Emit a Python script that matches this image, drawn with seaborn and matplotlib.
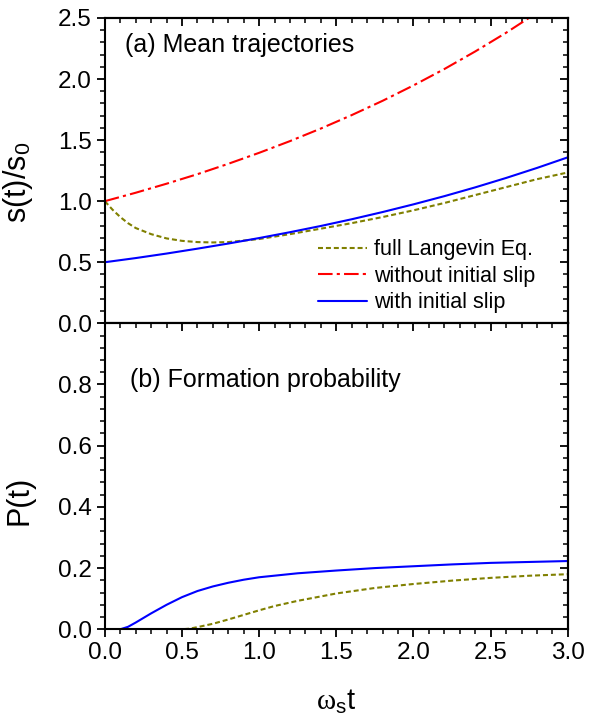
import numpy as np
import matplotlib
matplotlib.use("Agg")
import matplotlib.pyplot as plt
import seaborn as sns
from matplotlib.ticker import MultipleLocator, FormatStrFormatter

# panel (a): mean trajectories
t_a = [0.0, 0.2, 0.4, 0.6, 0.8, 1.0, 1.2, 1.4, 1.6, 1.8, 2.0, 2.2, 2.4, 2.6, 2.8, 3.0]
s_noslip = [1.000, 1.069, 1.143, 1.221, 1.306, 1.396, 1.492, 1.595, 1.705, 1.822,
            1.948, 2.082, 2.226, 2.379, 2.543, 2.718]
s_slip = [0.500, 0.534, 0.571, 0.611, 0.653, 0.698, 0.746, 0.797, 0.852, 0.911,
          0.974, 1.041, 1.113, 1.190, 1.272, 1.359]
t_full = [0.0, 0.05, 0.1, 0.15, 0.2, 0.3, 0.4, 0.5, 0.6, 0.7, 0.8, 1.0, 1.2, 1.4,
          1.6, 1.8, 2.0, 2.2, 2.4, 2.6, 2.8, 3.0]
s_full = [1.00, 0.93, 0.87, 0.82, 0.78, 0.73, 0.695, 0.675, 0.665, 0.662, 0.665,
          0.69, 0.73, 0.775, 0.82, 0.87, 0.925, 0.985, 1.05, 1.115, 1.18, 1.235]

# panel (b): formation probability
t_b_slip = [0.0, 0.1, 0.15, 0.2, 0.3, 0.4, 0.5, 0.6, 0.7, 0.8, 0.9, 1.0, 1.25, 1.5,
            1.75, 2.0, 2.25, 2.5, 2.75, 3.0]
p_slip = [0.0, 0.0, 0.008, 0.022, 0.052, 0.08, 0.105, 0.125, 0.14, 0.152, 0.162,
          0.17, 0.183, 0.192, 0.20, 0.206, 0.212, 0.217, 0.22, 0.223]
t_b_full = [0.0, 0.5, 0.55, 0.6, 0.7, 0.8, 0.9, 1.0, 1.1, 1.25, 1.5, 1.75, 2.0,
            2.25, 2.5, 2.75, 3.0]
p_full = [0.0, 0.0, 0.002, 0.007, 0.018, 0.032, 0.047, 0.062, 0.076, 0.093, 0.117,
          0.135, 0.148, 0.159, 0.168, 0.175, 0.18]

labels = ["full Langevin Eq.", "without initial slip", "with initial slip"]
c_full, c_noslip, c_slip = "#808000", "#ff0000", "#0000ff"
ls_full = (0, (2.4, 1.4))
ls_noslip = (0, (7, 2, 1.5, 2))

sns.set_style("ticks")
plt.rcParams["font.family"] = ["Liberation Sans", "DejaVu Sans"]
plt.rcParams["mathtext.fontset"] = "custom"
plt.rcParams["mathtext.rm"] = "Liberation Sans"
plt.rcParams["mathtext.it"] = "Liberation Serif"
plt.rcParams["axes.linewidth"] = 1.5
for key in ["text.color", "axes.labelcolor", "xtick.color", "ytick.color", "axes.edgecolor"]:
    plt.rcParams[key] = "black"

fig = plt.figure(figsize=(5.89, 7.2), dpi=100)
ax1 = fig.add_axes([0.178, 0.551, 0.786, 0.424])
ax2 = fig.add_axes([0.178, 0.126, 0.786, 0.425], sharex=ax1)

lw = 1.5
sns.lineplot(x=t_full, y=s_full, ax=ax1, color=c_full, linestyle=ls_full, lw=lw, label=labels[0])
sns.lineplot(x=t_a, y=s_noslip, ax=ax1, color=c_noslip, linestyle=ls_noslip, lw=lw, label=labels[1])
sns.lineplot(x=t_a, y=s_slip, ax=ax1, color=c_slip, linestyle="-", lw=lw, label=labels[2])

sns.lineplot(x=t_b_full, y=p_full, ax=ax2, color=c_full, linestyle=ls_full, lw=lw)
sns.lineplot(x=t_b_slip, y=p_slip, ax=ax2, color=c_slip, linestyle="-", lw=lw)

ax1.set_xlim(0, 3.0)
ax1.set_ylim(0, 2.5)
ax2.set_ylim(0, 1.0)
ax1.set_yticks([0.0, 0.5, 1.0, 1.5, 2.0, 2.5])
ax2.set_yticks([0.0, 0.2, 0.4, 0.6, 0.8])
ax2.set_xticks([0.0, 0.5, 1.0, 1.5, 2.0, 2.5, 3.0])
ax1.yaxis.set_minor_locator(MultipleLocator(0.1))
ax2.yaxis.set_minor_locator(MultipleLocator(0.04))
ax2.xaxis.set_minor_locator(MultipleLocator(0.1))

for ax, minor_y in [(ax1, 0.1), (ax2, 0.04)]:
    ax.tick_params(which="major", direction="out", length=6, width=1.3, labelsize=17.5, pad=3.5)
    ax.tick_params(which="minor", direction="out", length=3.5, width=1.1)
    ax.yaxis.set_major_formatter(FormatStrFormatter("%.1f"))
    ax.xaxis.set_major_formatter(FormatStrFormatter("%.1f"))
    for side in ["top", "right"]:
        ax.spines[side].set_visible(True)
    sec_y = ax.secondary_yaxis("right")
    sec_y.set_yticks(ax.get_yticks())
    sec_y.yaxis.set_minor_locator(MultipleLocator(minor_y))
    sec_y.tick_params(which="major", direction="in", length=6, width=1.3, labelright=False)
    sec_y.tick_params(which="minor", direction="in", length=3.5, width=1.1)
    sec_x = ax.secondary_xaxis("top")
    sec_x.set_xticks([0.0, 0.5, 1.0, 1.5, 2.0, 2.5, 3.0])
    sec_x.xaxis.set_minor_locator(MultipleLocator(0.1))
    sec_x.tick_params(which="major", direction="in", length=6, width=1.3, labeltop=False)
    sec_x.tick_params(which="minor", direction="in", length=3.5, width=1.1)

ax1.tick_params(axis="x", labelbottom=False)

ax1.set_ylabel(r"s(t)/s$_\mathrm{0}$", fontsize=22)
ax2.set_ylabel("P(t)", fontsize=22)
ax1.yaxis.set_label_coords(-0.151, 0.46)
ax2.yaxis.set_label_coords(-0.151, 0.42)
ax1.set_xlabel("")
ax2.set_xlabel(r"$\omega_\mathrm{s}$t", fontsize=21)
ax2.xaxis.set_label_coords(0.5, -0.19)

ax1.text(0.043, 0.91, "(a) Mean trajectories", transform=ax1.transAxes,
         fontsize=18, va="center", ha="left")
ax2.text(0.054, 0.816, "(b) Formation probability", transform=ax2.transAxes,
         fontsize=18, va="center", ha="left")

ax1.legend(loc="upper left", bbox_to_anchor=(0.46, 0.275), frameon=False, fontsize=15.5,
           handlelength=2.3, handletextpad=0.3, labelspacing=0.25,
           borderaxespad=0, borderpad=0)

fig.savefig("out.png", dpi=100)
